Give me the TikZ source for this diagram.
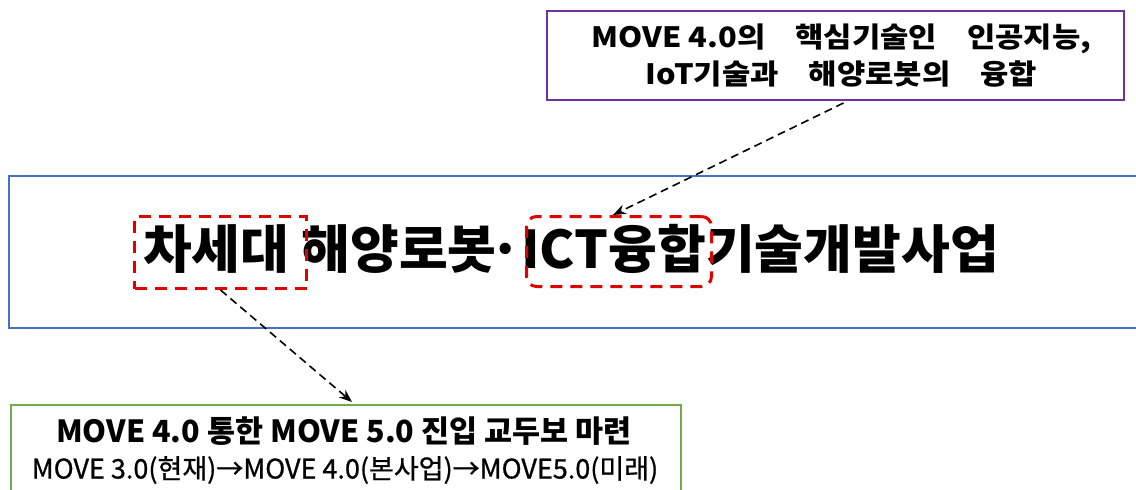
\documentclass[tikz,border=0pt]{standalone}
\usepackage{fontspec}
\setmainfont{Noto Sans CJK KR}
\usetikzlibrary{arrows.meta,calc}
\definecolor{kpurple}{RGB}{112,48,160}
\definecolor{kblue}{RGB}{68,114,196}
\definecolor{kgreen}{RGB}{112,173,71}
\definecolor{kred}{RGB}{224,0,0}
\newcommand{\gap}{\hspace{30pt}}
\begin{document}
\begin{tikzpicture}[x=1pt,y=-1pt,
  frame/.style={draw=#1, line width=2pt, inner sep=0pt, anchor=north west},
  hl/.style={draw=kred, line width=3pt, dash pattern=on 12pt off 8pt, inner sep=0pt, anchor=north west},
  link/.style={draw=black, line width=1.6pt, dash pattern=on 8pt off 5pt, -{Stealth[length=13pt,width=10pt]}}]
\useasboundingbox (0,0) rectangle (1136,490);
\clip (0,0) rectangle (1136,490);
% top purple box
\node[frame=kpurple, minimum width=577pt, minimum height=89pt] (top) at (546,10) {};
\node[font=\fontsize{28}{37}\selectfont\bfseries\addfontfeature{FakeStretch=1.1}, align=center] (toptext) at ($(top.center)+(6,0)$) {MOVE 4.0의\gap 핵심기술인\gap 인공지능,\\IoT기술과\gap 해양로봇의\gap 융합};
% main blue box
\node[frame=kblue, minimum width=1140pt, minimum height=152pt] (main) at (8,175) {};
\node[font=\fontsize{52}{58}\selectfont\bfseries\addfontfeature{FakeStretch=1.02}] (title) at (571,249) {차세대 해양로봇\kern-0.15em·ICT융합기술개발사업};
% red highlight boxes
\node[hl, minimum width=172pt, minimum height=72pt] (g1) at (133,215) {};
\node[hl, rounded corners=10pt, minimum width=185pt, minimum height=70pt] (g2) at (525,215) {};
% bottom green box
\node[frame=kgreen, minimum width=670pt, minimum height=120pt] (bottom) at (10,404) {};
\node[font=\fontsize{30.5}{34}\selectfont\bfseries] (b1) at (344,431) {MOVE 4.0 통한 MOVE 5.0 진입 교두보 마련};
\node[font=\fontsize{27}{30}\selectfont\addfontfeature{FakeBold=0.8}] (b2) at (345,470) {MOVE 3.0(현재)→MOVE 4.0(본사업)→MOVE5.0(미래)};
% connectors
\coordinate (a1s) at ($(top.south)+(8,2)$);
\coordinate (a1e) at ($(g2.north)+(-6,0)$);
\draw[link] (a1s) -- (a1e);
\coordinate (a2e) at (352,402);
\draw[link] (g1.south) -- (a2e);
\end{tikzpicture}
\end{document}
